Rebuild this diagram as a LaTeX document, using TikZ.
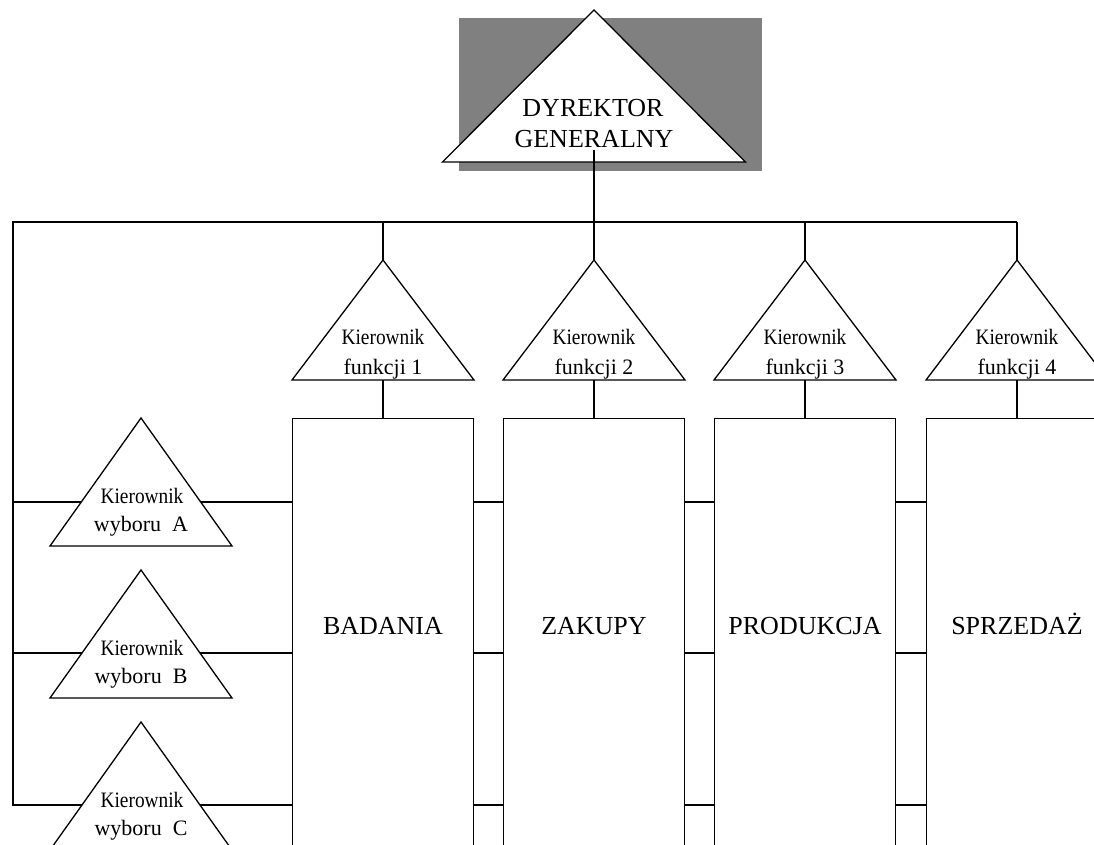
\documentclass[tikz,border=0pt]{standalone}
\usepackage{fontspec}
\setmainfont{Liberation Serif}
\definecolor{shadow}{RGB}{128,128,128}
\newcommand\mytri[5]{%
  \coordinate (#1) at (#2,#3);
  \draw[tri] (#1) -- ++(#4,#5) -- ++(-2*#4,0) -- cycle;
  \coordinate (#1b) at (#2,#3+#5);}
\newcommand\kier{\scalebox{0.88}[1]{Kierownik}}
\begin{document}
\begin{tikzpicture}[x=1pt,y=-1pt,line width=1.3pt,
  tri/.style={draw,fill=white,line join=miter},
  lbl/.style={font=\fontsize{22}{26}\selectfont,anchor=base,inner sep=0pt},
  big/.style={font=\fontsize{26}{31}\selectfont,anchor=base,inner sep=0pt},
  dept/.style={draw,fill=white,minimum width=181pt,minimum height=600pt,anchor=north,inner sep=0pt},
  depttext/.style={font=\fontsize{26}{31}\selectfont,anchor=base,inner sep=0pt}]
\useasboundingbox (0,0) rectangle (1094,845);
\clip (0,0) rectangle (1094,845);
% director
\fill[shadow] (459,18) rectangle (762,171);
\mytri{dir}{594}{10}{151.5}{152}
\node[big] (dir1) at (593,117) {DYREKTOR};
\node[big] (dir2) at (594,148) {GENERALNY};
\coordinate (dirline) at (594,150);
% bus
\coordinate (busL) at (13,222);
\coordinate (busR) at (1017,222);
\coordinate (r1) at (0,502);
\coordinate (r2) at (0,653);
\coordinate (r3) at (0,805);
% departments
\node[dept] (box1) at (383,418) {};
\node[dept] (box2) at (594,418) {};
\node[dept] (box3) at (805,418) {};
\node[dept] (box4) at (1017,418) {};
\node[depttext] (t1) at (383,634) {BADANIA};
\node[depttext] (t2) at (594,634) {ZAKUPY};
\node[depttext] (t3) at (805,634) {PRODUKCJA};
\node[depttext] (t4) at (1017,634) {SPRZEDAŻ};
% connectors between departments
\foreach \a/\b in {box1/box2,box2/box3,box3/box4}{
  \foreach \r in {r1,r2,r3}{
    \draw (\a.east |- \r) -- (\b.west |- \r);}}
% left bus and project lines
\draw (busR) -- (busL) -- (busL |- r3) -- (box1.west |- r3);
\draw (busL |- r1) -- (box1.west |- r1);
\draw (busL |- r2) -- (box1.west |- r2);
% function managers
\mytri{f1}{383}{260}{91}{120}
\mytri{f2}{594}{260}{91}{120}
\mytri{f3}{805}{260}{91}{120}
\mytri{f4}{1017}{260}{91}{120}
\draw (dirline) -- (f2);
\foreach \i in {1,3,4}{\draw (f\i |- busL) -- (f\i);}
\foreach \i in {1,2,3,4}{\draw (f\i b) -- (box\i.north);}
\foreach \i/\x in {1/383,2/594,3/805,4/1017}{
  \node[lbl] (fk\i) at (\x,344) {\kier};
  \node[lbl] (ff\i) at (\x,374) {funkcji \i};}
% project managers
\mytri{pA}{141}{418}{91}{128}
\mytri{pB}{141}{570}{91}{128}
\mytri{pC}{141}{722}{91}{128}
\foreach \p/\y in {A/418,B/570,C/722}{
  \node[lbl] (pk\p) at (142,\y+85) {\kier};
  \node[lbl] (pw\p) at (141,\y+113) {wyboru\ \ \p};}
\end{tikzpicture}
\end{document}
